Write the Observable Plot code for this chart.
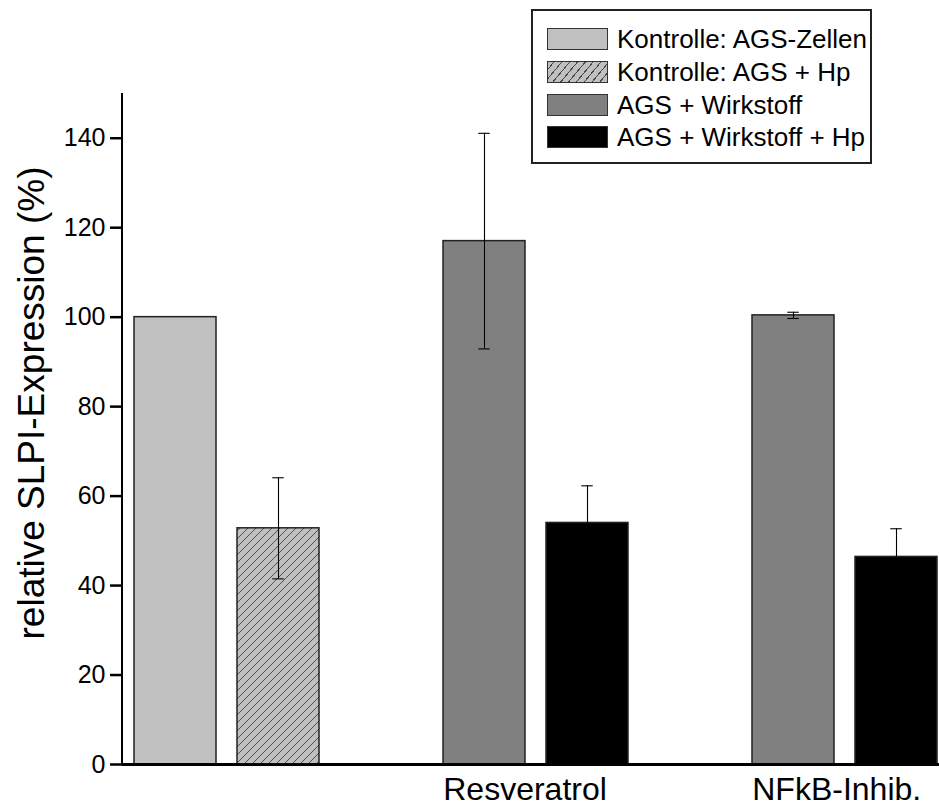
<!DOCTYPE html>
<html>
<head>
<meta charset="utf-8">
<script src="https://cdn.jsdelivr.net/npm/d3@7"></script>
<script src="https://cdn.jsdelivr.net/npm/@observablehq/plot@0.6"></script>
<style>
  html, body { margin: 0; padding: 0; background: #fff; }
  #wrap { position: relative; width: 939px; height: 805px; font-family: "Liberation Sans", Arial, sans-serif; }
  #legend { position: absolute; left: 531px; top: 9px; width: 337px; height: 151px; border: 2px solid #222; background: #fff; }
  .item { position: absolute; left: 14px; height: 24px; display: flex; align-items: center; }
  .sw { width: 59px; height: 20px; border: 1.5px solid #333; margin-right: 9px; flex: none; }
  .lab { font-size: 26px; color: #000; white-space: nowrap; line-height: 24px; }
</style>
</head>
<body>
<svg width="0" height="0" style="position:absolute">
  <defs>
    <pattern id="hatch" patternUnits="userSpaceOnUse" width="8" height="8">
      <rect width="8" height="8" fill="#c0c0c0"></rect>
      <path d="M-2,2 l4,-4 M0,8 l8,-8 M6,10 l4,-4" stroke="#333" stroke-width="0.8"></path>
    </pattern>
  </defs>
</svg>
<div id="wrap"><div id="legend"></div></div>
<script>
// ---- data ----
const seriesNames = ["Kontrolle: AGS-Zellen", "Kontrolle: AGS + Hp", "AGS + Wirkstoff", "AGS + Wirkstoff + Hp"];
const seriesFills = ["#c0c0c0", "url(#hatch)", "#808080", "#000000"];
const barIds = ["K1", "K2", "R1", "R2", "N1", "N2"];
const barSeries = [0, 1, 2, 3, 2, 3];
const barValues = [100, 52.8, 117.0, 54.0, 100.4, 46.4];
const barErrors = [0, 11.3, 24.1, 8.3, 0.7, 6.3];
const slotDomain = ["K1", "K2", "gap1", "R1", "R2", "gap2", "N1", "N2"];
const groupLabels = ["Resveratrol", "NFkB-Inhib."];
const groupLabelAt = ["R1", "N1"];
const yTicks = [0, 20, 40, 60, 80, 100, 120, 140];
const yLabel = "relative SLPI-Expression (%)";

const bars = barIds.map((id, i) => ({
  id, series: barSeries[i], value: barValues[i], err: barErrors[i],
  lo: barValues[i] - barErrors[i], hi: barValues[i] + barErrors[i]
}));
const errs = bars.filter(d => d.err > 0);
const groups = groupLabels.map((t, i) => ({label: t, at: groupLabelAt[i]}));

const W = 939, H = 805;
const marginLeft = 122, marginTop = 93, marginBottom = 41;
const step = 103.125;
const bw = step * 0.8;
const capHalf = 6;

const chart = Plot.plot({
  width: W, height: H,
  marginLeft, marginRight: 0, marginTop, marginBottom,
  style: {fontFamily: "'Liberation Sans', Arial, sans-serif", background: "#fff", color: "#000", overflow: "visible"},
  x: {type: "band", domain: slotDomain, range: [123, 948], paddingInner: 0.2, paddingOuter: 0.1, axis: null},
  y: {domain: [0, 150], axis: null},
  marks: [
    Plot.barY(bars, {x: "id", y: "value", fill: d => seriesFills[d.series], stroke: "#222", strokeWidth: 1.5}),
    Plot.ruleX(errs, {x: "id", y1: "lo", y2: "hi", stroke: "#000", strokeWidth: 1.1}),
    Plot.tickY(errs, {x: "id", y: "hi", stroke: "#000", strokeWidth: 1.1, insetLeft: bw / 2 - capHalf, insetRight: bw / 2 - capHalf}),
    Plot.tickY(errs, {x: "id", y: "lo", stroke: "#000", strokeWidth: 1.1, insetLeft: bw / 2 - capHalf, insetRight: bw / 2 - capHalf}),
    Plot.axisY({ticks: yTicks, tickSize: 12, tickPadding: 5, fontSize: 25, label: null, tickFormat: d => String(d), strokeWidth: 2.5}),
    Plot.ruleY([0], {stroke: "#000", strokeWidth: 3}),
    Plot.text(groups, {x: "at", text: "label", frameAnchor: "bottom", textAnchor: "start", dx: -bw / 2, dy: 25, lineAnchor: "middle", fontSize: 32, fill: "#000"}),
    Plot.text([yLabel], {frameAnchor: "left", text: d => d, rotate: -90, textAnchor: "middle", dx: -90, dy: -26, fontSize: 37, lineAnchor: "middle", fill: "#000"})
  ]
});

// vertical y-axis line drawn through the y scale
const ys = chart.scale("y");
d3.select(chart).append("line")
  .attr("x1", marginLeft).attr("x2", marginLeft)
  .attr("y1", ys.range[1]).attr("y2", ys.range[0] + 1)
  .attr("stroke", "#000").attr("stroke-width", 2);

document.getElementById("wrap").prepend(chart);

// legend
const legend = document.getElementById("legend");
const rowTops = [16, 49, 82, 114];
seriesNames.forEach((name, i) => {
  const it = document.createElement("div");
  it.className = "item";
  it.style.top = rowTops[i] + "px";
  const sw = document.createElement("div");
  sw.className = "sw";
  if (seriesFills[i] === "url(#hatch)") {
    sw.style.background = "repeating-linear-gradient(-50deg, #c0c0c0 0px, #c0c0c0 5px, #444 5px, #444 6px)";
  } else {
    sw.style.background = seriesFills[i];
  }
  const lab = document.createElement("span");
  lab.className = "lab";
  lab.textContent = name;
  it.append(sw, lab);
  legend.append(it);
});
</script>
</body>
</html>
